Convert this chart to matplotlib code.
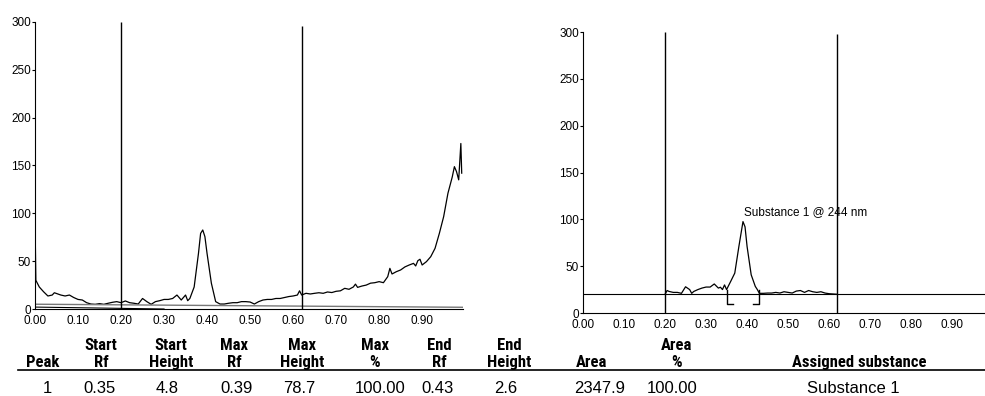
import matplotlib
matplotlib.use("Agg")
import matplotlib.pyplot as plt
from matplotlib import font_manager

# left densitogram (whole track)
rf_left = [0.000, 0.002, 0.010, 0.020, 0.030, 0.040, 0.045, 0.060, 0.070, 0.080, 0.090,
           0.100, 0.110, 0.120, 0.130, 0.140, 0.150, 0.160, 0.170, 0.180, 0.190,
           0.200, 0.210, 0.220, 0.230, 0.240, 0.250, 0.260, 0.270, 0.280, 0.290,
           0.300, 0.310, 0.320, 0.330, 0.340, 0.350, 0.355, 0.360, 0.370, 0.380,
           0.385, 0.390, 0.395, 0.400, 0.410, 0.420, 0.430, 0.440, 0.450, 0.460,
           0.470, 0.480, 0.490, 0.500, 0.510, 0.520, 0.530, 0.540, 0.550, 0.560,
           0.570, 0.580, 0.590, 0.600, 0.610, 0.615, 0.620, 0.630, 0.640, 0.650,
           0.660, 0.670, 0.680, 0.690, 0.700, 0.710, 0.720, 0.730, 0.740, 0.745,
           0.750, 0.760, 0.770, 0.780, 0.790, 0.800, 0.810, 0.820, 0.825, 0.830,
           0.840, 0.850, 0.860, 0.870, 0.880, 0.885, 0.890, 0.895, 0.900, 0.910,
           0.920, 0.930, 0.940, 0.950, 0.960, 0.970, 0.975, 0.980, 0.985, 0.990, 0.992]
h_left = [93, 30, 23, 18, 13.6, 14.6, 17, 14.6, 13.6, 14.6, 12,
          10, 9.4, 6.6, 5.2, 4.9, 5.6, 4.9, 6, 7, 7.7,
          6.6, 8.4, 6.6, 6, 5.2, 11, 7.7, 4.9, 7.7, 8.7,
          10, 10, 11, 14.6, 9.4, 14.6, 8.7, 11, 23, 58,
          79, 82.6, 75.6, 58, 27, 7.7, 5.2, 5.2, 6, 6.6,
          6.6, 7.7, 7.7, 7.3, 5.2, 7.7, 9.4, 10, 10, 11,
          11, 12, 13, 13.6, 14.6, 19, 14.6, 16.4, 15.7, 16.4,
          17, 16.4, 17.8, 17.2, 18.5, 19, 21.6, 20.6, 23, 26,
          22.6, 24, 25, 27, 27.5, 28.6, 27.5, 33.8, 42.5, 36.6,
          39, 40.8, 44, 46, 47.7, 45, 50.5, 52, 46, 49.5,
          54.7, 63.4, 79, 96.5, 121, 138, 148.8, 143.5, 135, 173, 142]

# integration baselines on the left track
base_rf = [0.0, 0.995]
base_h = [5.0, 1.8]
base2_rf = [0.0, 0.30]
base2_h = [2.0, 0.0]

# right densitogram (assigned substance window)
rf_right = [0.200, 0.205, 0.210, 0.220, 0.230, 0.240, 0.250, 0.260, 0.265, 0.270,
            0.280, 0.290, 0.300, 0.310, 0.320, 0.330, 0.335, 0.340, 0.345, 0.350,
            0.360, 0.370, 0.380, 0.390, 0.395, 0.400, 0.410, 0.420, 0.425, 0.430,
            0.440, 0.450, 0.460, 0.470, 0.480, 0.490, 0.500, 0.510, 0.520, 0.530,
            0.540, 0.550, 0.560, 0.570, 0.580, 0.590, 0.600, 0.620]
h_right = [20, 24, 23, 22, 22, 21, 28, 25, 21, 23,
           25, 26.6, 27.7, 27.7, 31, 26.6, 27.5, 25, 30, 25,
           33.7, 42.6, 71, 97.6, 92, 71, 40.8, 28.4, 25, 21,
           21, 21.3, 21.3, 22, 21.3, 22.7, 22, 21.3, 23.4, 24,
           22, 24, 22.7, 22, 22.7, 21.3, 20.6, 20]
baseline_right = 20
peak_start, peak_end, bracket_low = 0.35, 0.43, 10
window = [0.20, 0.62]

# results table
headers_top = ["", "Start", "Start", "Max", "Max", "Max", "End", "End", "", "Area", ""]
headers_bot = ["Peak", "Rf", "Height", "Rf", "Height", "%", "Rf", "Height", "Area", "%",
               "Assigned substance"]
row = ["1", "0.35", "4.8", "0.39", "78.7", "100.00", "0.43", "2.6", "2347.9", "100.00",
       "Substance 1"]
head_x = [43, 101, 171, 234, 302, 375, 439, 509, 592, 677, 859]
row_x = [47, 99, 167, 237, 299, 380, 437, 506, 600, 672, 853]


# pick a narrow bold face for the table header if one is installed
def narrow_font():
    tries = [("Liberation Sans Narrow", "normal", 12),
             ("Roboto Condensed", "normal", 12),
             ("DejaVu Sans", "condensed", 10.5),
             ("Noto Sans", "condensed", 11.5),
             ("Open Sans", "condensed", 11.5)]
    for fam, stretch, size in tries:
        fp = font_manager.FontProperties(family=fam, stretch=stretch, weight="bold")
        try:
            path = font_manager.findfont(fp, fallback_to_default=False)
        except Exception:
            continue
        name = path.lower()
        if "narrow" in name or "condensed" in name:
            return dict(family=[fam, "DejaVu Sans"], stretch=stretch, size=size)
    return dict(family=["Liberation Sans", "DejaVu Sans"], size=10.5)


W, H = 985, 396
fig = plt.figure(figsize=(W / 100, H / 100), dpi=100)
tick_font = dict(family=["Liberation Sans", "DejaVu Sans"], size=8.5)


def style(ax, xmax):
    ax.set_xlim(0, xmax)
    ax.set_ylim(0, 300)
    for s in ["top", "right"]:
        ax.spines[s].set_visible(False)
    ax.set_xticks([0, .1, .2, .3, .4, .5, .6, .7, .8, .9])
    ax.set_xticklabels(["0.00", "0.10", "0.20", "0.30", "0.40", "0.50", "0.60",
                        "0.70", "0.80", "0.90"], **tick_font)
    ax.set_yticks([0, 50, 100, 150, 200, 250, 300])
    ax.set_yticklabels(["0", "50", "100", "150", "200", "250", "300"], **tick_font)
    ax.tick_params(axis="x", length=0, pad=4.5)
    ax.tick_params(axis="y", length=2, pad=1)
    ax.patch.set_alpha(0)


axL = fig.add_axes([35 / W, 1 - 309 / H, 428 / W, 287 / H])
style(axL, 0.995)
axL.plot(rf_left, h_left, color="black", lw=0.9)
axL.plot(base_rf, base_h, color="#777777", lw=1)
axL.plot(base2_rf, base2_h, color="black", lw=0.8)
axL.vlines(window[0], 0, 300, color="black", lw=1)
axL.vlines(window[1], 0, 296, color="black", lw=1)

axR = fig.add_axes([583 / W, 1 - 313 / H, 402 / W, 281 / H])
style(axR, 0.98)
axR.axhline(baseline_right, color="black", lw=0.8)
axR.plot(rf_right, h_right, color="black", lw=0.9)
axR.vlines(window[0], 0, 300, color="black", lw=1)
axR.vlines(window[1], 0, 298, color="black", lw=1)
axR.plot([peak_start, peak_start, peak_start + 0.015], [25, bracket_low, bracket_low],
         color="black", lw=1)
axR.plot([peak_end - 0.015, peak_end, peak_end], [bracket_low, bracket_low, 25],
         color="black", lw=1)
axR.text(0.392, 101, "Substance 1 @ 244 nm", family=["Liberation Sans", "DejaVu Sans"],
         size=8.5, ha="left", va="bottom")

hfont = dict(weight="bold", ha="center", va="baseline", **narrow_font())
dfont = dict(family=["Liberation Sans", "DejaVu Sans"], size=12, ha="center",
             va="baseline")
for x, t1, t2 in zip(head_x, headers_top, headers_bot):
    if t1:
        fig.text(x / W, 1 - 350 / H, t1, **hfont)
    fig.text(x / W, 1 - 367 / H, t2, **hfont)
fig.add_artist(plt.Line2D([18 / W, 1.0], [1 - 370 / H, 1 - 370 / H],
                          color="black", lw=1.2))
for x, t in zip(row_x, row):
    fig.text(x / W, 1 - 393 / H, t, **dfont)

fig.savefig("out.png", dpi=100)
